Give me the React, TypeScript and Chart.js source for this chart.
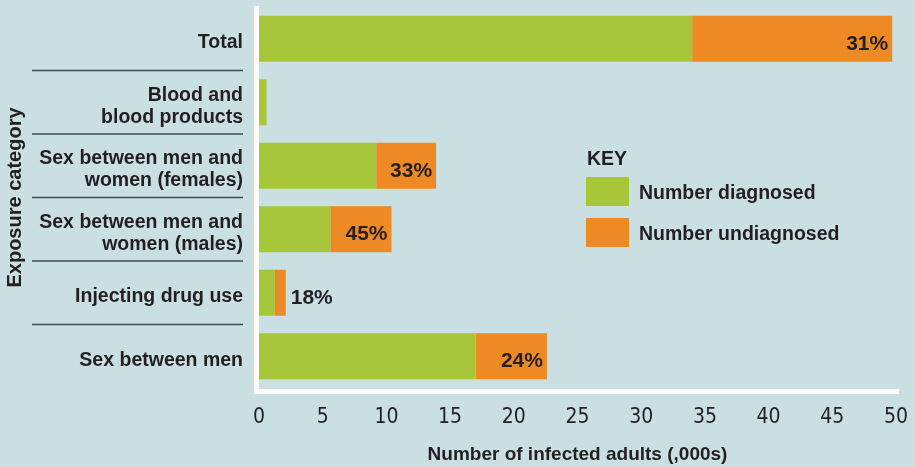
import React, { useEffect, useRef } from "react";
import { Chart, registerables } from "chart.js";

Chart.register(...registerables);

const categories: string[][] = [
  ["Total"],
  ["Blood and", "blood products"],
  ["Sex between men and", "women (females)"],
  ["Sex between men and", "women (males)"],
  ["Injecting drug use"],
  ["Sex between men"],
];
const diagnosed = [34.0, 0.6, 9.2, 5.6, 1.25, 17.0];
const undiagnosed = [15.7, 0, 4.7, 4.8, 0.85, 5.6];
const undiagnosedShare = ["31%", "", "33%", "45%", "18%", "24%"];
const seriesNames = ["Number diagnosed", "Number undiagnosed"];
const xMin = 0;
const xMax = 50;
const xStep = 5;
const keyTitle = "KEY";
const yTitle = "Exposure category";
const xTitle = "Number of infected adults (,000s)";

const BG = "#c9dfe2";
const GREEN = "#a7c639";
const ORANGE = "#ee8a24";
const TEXT = "#231f20";
const SANS = "'Liberation Sans', Arial, Helvetica, sans-serif";
const NARROW = "'Liberation Sans Narrow', 'DejaVu Sans Condensed', 'Liberation Sans', sans-serif";

export default function App() {
  const ref = useRef<HTMLCanvasElement | null>(null);

  useEffect(() => {
    const canvas = ref.current;
    if (!canvas) return;

    const bgPlugin = {
      id: "bg",
      beforeDraw(chart: any) {
        const ctx = chart.ctx;
        ctx.save();
        ctx.fillStyle = BG;
        ctx.fillRect(0, 0, chart.width, chart.height);
        ctx.restore();
      },
    };

    const decoPlugin = {
      id: "deco",
      afterDatasetsDraw(chart: any) {
        const ctx = chart.ctx;
        const area = chart.chartArea;
        const y = chart.scales.y;
        ctx.save();
        // white axis lines
        ctx.fillStyle = "#ffffff";
        ctx.fillRect(area.left - 5, area.top - 1, 5, area.bottom - area.top + 7);
        ctx.fillRect(area.left - 5, area.bottom + 1, area.right - area.left + 8, 5);
        // separators between category labels
        ctx.strokeStyle = "#4a4a4a";
        ctx.lineWidth = 1.5;
        for (let i = 0; i < categories.length - 1; i++) {
          const py = (y.getPixelForValue(i) + y.getPixelForValue(i + 1)) / 2;
          ctx.beginPath();
          ctx.moveTo(32, py);
          ctx.lineTo(area.left - 16, py);
          ctx.stroke();
        }
        // percent labels
        const meta = chart.getDatasetMeta(1);
        ctx.font = "bold 21px " + SANS;
        ctx.fillStyle = TEXT;
        ctx.textBaseline = "middle";
        meta.data.forEach((bar: any, i: number) => {
          const label = undiagnosedShare[i];
          if (!label) return;
          const w = Math.abs(bar.x - bar.base);
          if (w > 50) {
            ctx.textAlign = "right";
            ctx.fillText(label, bar.x - 4, bar.y + 5);
          } else {
            ctx.textAlign = "left";
            ctx.fillText(label, bar.x + 5, bar.y + 5);
          }
        });
        // key
        const kx = 586;
        const ky = 160;
        ctx.textAlign = "left";
        ctx.font = "bold 19.5px " + SANS;
        ctx.fillText(keyTitle, kx + 1, ky);
        const colors = [GREEN, ORANGE];
        seriesNames.forEach((name, i) => {
          const by = 177 + i * 41;
          ctx.fillStyle = colors[i];
          ctx.fillRect(kx, by, 43, 29);
          ctx.fillStyle = TEXT;
          ctx.fillText(name, kx + 53, by + 17);
        });
        ctx.restore();
      },
    };

    const chart = new Chart(canvas, {
      type: "bar",
      data: {
        labels: categories,
        datasets: [
          {
            label: seriesNames[0],
            data: diagnosed,
            backgroundColor: GREEN,
            borderWidth: 0,
            barPercentage: 1,
            categoryPercentage: 46 / 63.5,
          },
          {
            label: seriesNames[1],
            data: undiagnosed,
            backgroundColor: ORANGE,
            borderWidth: 0,
            barPercentage: 1,
            categoryPercentage: 46 / 63.5,
          },
        ],
      },
      options: {
        indexAxis: "y",
        responsive: false,
        animation: false,
        devicePixelRatio: 1,
        layout: { padding: { top: 7, right: 19, bottom: 0, left: 0 } },
        plugins: {
          legend: { display: false },
          tooltip: { enabled: false },
        },
        scales: {
          x: {
            stacked: true,
            min: xMin,
            max: xMax,
            grid: { display: false, drawTicks: false },
            border: { display: false },
            ticks: {
              stepSize: xStep,
              color: TEXT,
              font: { family: NARROW, size: 21 },
              padding: 17,
            },
            title: {
              display: true,
              text: xTitle,
              color: TEXT,
              font: { family: SANS, size: 19, weight: "bold" },
              padding: { top: 0, bottom: 1 },
            },
            afterFit(scale: any) {
              scale.height = 79;
              scale.paddingLeft = 0;
              scale.paddingRight = 0;
            },
          },
          y: {
            stacked: true,
            grid: { display: false, drawTicks: false },
            border: { display: false },
            ticks: {
              color: TEXT,
              font: { family: SANS, size: 19.5, weight: "bold", lineHeight: 1.13 },
              padding: 16,
              labelOffset: 4,
              autoSkip: false,
            },
            title: {
              display: true,
              text: yTitle,
              color: TEXT,
              font: { family: SANS, size: 20, weight: "bold" },
              padding: { top: 3, bottom: 0 },
            },
            afterFit(scale: any) {
              scale.width = 259;
              scale.paddingTop = 0;
              scale.paddingBottom = 0;
            },
          },
        },
      },
      plugins: [bgPlugin, decoPlugin],
    } as any);

    return () => chart.destroy();
  }, []);

  return (
    <div
      style={{
        position: "fixed",
        left: 0,
        top: 0,
        width: 915,
        height: 467,
        background: BG,
      }}
    >
      <canvas ref={ref} width={915} height={467} style={{ display: "block" }} />
    </div>
  );
}
